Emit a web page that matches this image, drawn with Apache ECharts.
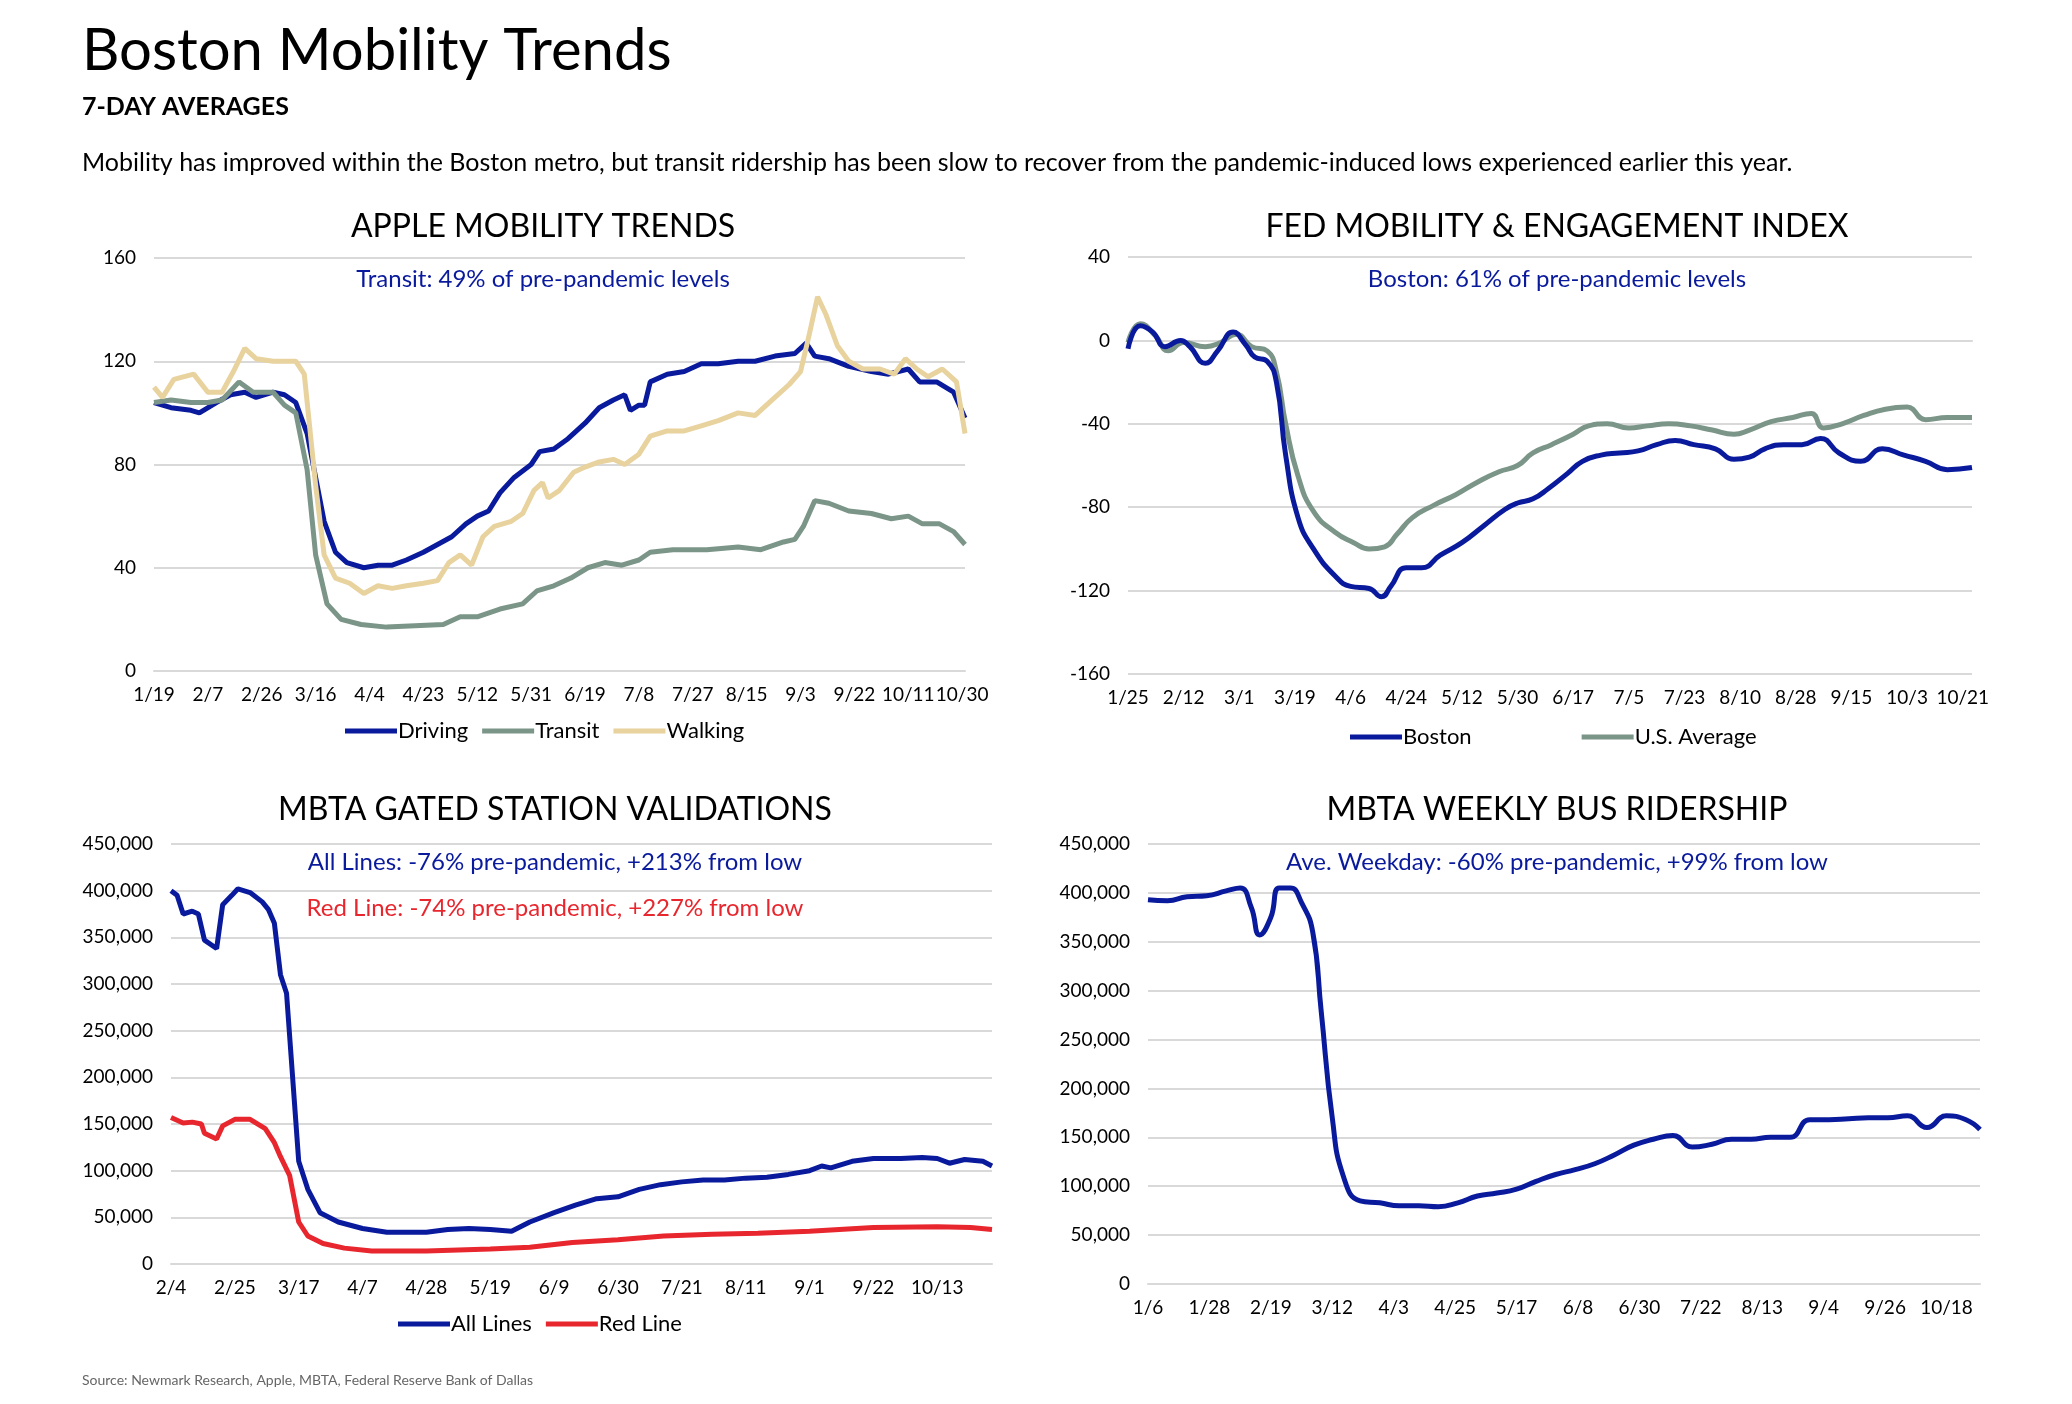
<!DOCTYPE html>
<html>
<head>
<meta charset="utf-8">
<script src="https://cdn.jsdelivr.net/npm/echarts@6/dist/echarts.min.js"></script>
<style>
  html, body { margin: 0; padding: 0; background: #fff; }
  #main { width: 2072px; height: 1404px; }
</style>
</head>
<body>
<div id="main"></div>
<script>
var FONT = 'Lato';
var BLUE = '#0a1a9c';
var GREEN = '#7b9588';
var TAN = '#e8d29e';
var RED = '#e8262e';

// ---- Apple mobility (daily, sampled) ----
var appleDriving = [['1/19',104],['1/25',102],['2/1',101],['2/4',100],['2/10',104],['2/15',107],['2/20',108],['2/24',106],['3/1',108],['3/5',107],['3/9',104],['3/13',92],['3/16',75],['3/19',58],['3/23',46],['3/27',42],['4/2',40],['4/7',41],['4/12',41],['4/17',43],['4/23',46],['4/28',49],['5/3',52],['5/8',57],['5/12',60],['5/16',62],['5/20',69],['5/25',75],['5/31',80],['6/3',85],['6/8',86],['6/13',90],['6/19',96],['6/24',102],['6/29',105],['7/3',107],['7/5',101],['7/8',103],['7/10',103],['7/12',112],['7/18',115],['7/24',116],['7/30',119],['8/5',119],['8/12',120],['8/18',120],['8/25',122],['9/1',123],['9/5',127],['9/8',122],['9/13',121],['9/20',118],['9/28',116],['10/4',115],['10/11',117],['10/15',112],['10/21',112],['10/27',108],['10/31',98]];
var appleTransit = [['1/19',104],['1/25',105],['2/1',104],['2/7',104],['2/12',105],['2/18',112],['2/23',108],['3/1',108],['3/5',103],['3/9',100],['3/13',78],['3/16',45],['3/20',26],['3/25',20],['4/1',18],['4/10',17],['4/20',17.5],['4/30',18],['5/6',21],['5/12',21],['5/20',24],['5/28',26],['6/2',31],['6/8',33],['6/14',36],['6/20',40],['6/26',42],['7/2',41],['7/8',43],['7/12',46],['7/20',47],['8/1',47],['8/12',48],['8/20',47],['8/28',50],['9/1',51],['9/4',56],['9/8',66],['9/13',65],['9/20',62],['9/28',61],['10/5',59],['10/11',60],['10/16',57],['10/22',57],['10/27',54],['10/31',49]];
var appleWalking = [['1/19',110],['1/22',106],['1/26',113],['2/2',115],['2/7',108],['2/12',108],['2/16',116],['2/20',125],['2/24',121],['3/1',120],['3/5',120],['3/9',120],['3/12',115],['3/16',72],['3/19',45],['3/23',36],['3/28',34],['4/2',30],['4/7',33],['4/12',32],['4/17',33],['4/23',34],['4/28',35],['5/2',42],['5/6',45],['5/10',41],['5/14',52],['5/18',56],['5/24',58],['5/28',61],['6/1',70],['6/4',73],['6/6',67],['6/10',70],['6/15',77],['6/19',79],['6/24',81],['6/29',82],['7/3',80],['7/8',84],['7/12',91],['7/18',93],['7/24',93],['7/30',95],['8/5',97],['8/12',100],['8/18',99],['8/24',105],['8/30',111],['9/3',116],['9/6',130],['9/9',145],['9/12',138],['9/16',126],['9/20',120],['9/25',117],['10/1',117],['10/6',115],['10/10',121],['10/14',117],['10/18',114],['10/23',117],['10/28',112],['10/31',92]];

// ---- Fed mobility & engagement index ----
var fedBoston = [['1/25',-4],['1/29',7],['2/2',4],['2/6',-3],['2/11',0],['2/14',-3],['2/19',-11],['2/23',-5],['2/28',4],['3/3',-2],['3/6',-8],['3/10',-10],['3/13',-20],['3/16',-55],['3/20',-85],['3/25',-100],['4/1',-113],['4/6',-118],['4/12',-119],['4/16',-123],['4/19',-118],['4/24',-109],['4/29',-109],['5/5',-103],['5/12',-97],['5/19',-89],['5/26',-81],['5/30',-78],['6/4',-76],['6/9',-71],['6/15',-64],['6/20',-58],['6/26',-55],['7/2',-54],['7/8',-53],['7/14',-50],['7/20',-48],['7/26',-50],['8/2',-52],['8/8',-57],['8/13',-56],['8/18',-52],['8/24',-50],['8/30',-50],['9/5',-47],['9/11',-54],['9/18',-58],['9/25',-52],['10/2',-55],['10/9',-58],['10/16',-62],['10/24',-61]];
var fedUS = [['1/25',-1],['1/29',8],['2/3',2],['2/7',-5],['2/12',-1],['2/19',-3],['2/24',-1],['2/29',3],['3/5',-3],['3/10',-5],['3/13',-15],['3/16',-40],['3/20',-65],['3/25',-82],['4/1',-92],['4/7',-97],['4/12',-100],['4/17',-99],['4/21',-93],['4/26',-85],['5/3',-79],['5/10',-74],['5/17',-68],['5/24',-63],['5/30',-60],['6/4',-54],['6/10',-50],['6/17',-45],['6/22',-41],['6/28',-40],['7/5',-42],['7/11',-41],['7/18',-40],['7/25',-41],['8/1',-43],['8/8',-45],['8/13',-43],['8/20',-39],['8/27',-37],['9/2',-35],['9/6',-42],['9/12',-40],['9/19',-36],['9/26',-33],['10/3',-32],['10/9',-38],['10/16',-37],['10/24',-37]];

// ---- MBTA gated station validations ----
var gatedAll = [['2/4',400000],['2/6',395000],['2/8',375000],['2/11',378000],['2/13',375000],['2/15',347000],['2/19',338000],['2/21',385000],['2/24',395000],['2/26',402000],['3/1',398000],['3/5',388000],['3/7',380000],['3/9',365000],['3/11',310000],['3/13',290000],['3/15',200000],['3/17',110000],['3/20',80000],['3/24',55000],['3/30',45000],['4/7',38000],['4/15',34000],['4/28',34000],['5/5',37000],['5/12',38000],['5/19',37000],['5/26',35000],['6/1',45000],['6/9',55000],['6/16',63000],['6/23',70000],['6/30',72000],['7/7',80000],['7/14',85000],['7/21',88000],['7/28',90000],['8/4',90000],['8/11',92000],['8/18',93000],['8/25',96000],['9/1',100000],['9/5',105000],['9/8',103000],['9/15',110000],['9/22',113000],['10/1',113000],['10/8',114000],['10/13',113000],['10/17',108000],['10/22',112000],['10/28',110000],['10/31',105000]];
var gatedRed = [['2/4',157000],['2/8',151000],['2/11',152000],['2/14',150000],['2/15',140000],['2/19',134000],['2/21',148000],['2/25',155000],['3/1',155000],['3/6',145000],['3/9',130000],['3/11',115000],['3/14',95000],['3/17',45000],['3/20',30000],['3/25',22000],['4/1',17000],['4/10',14000],['4/28',14000],['5/19',16000],['6/1',18000],['6/15',23000],['6/30',26000],['7/15',30000],['7/31',32000],['8/15',33000],['9/1',35000],['9/22',39000],['10/13',40000],['10/24',39000],['10/31',37000]];

// ---- MBTA weekly bus ridership ----
var busWeekday = [['1/6',393000],['1/13',392000],['1/20',396000],['1/27',397000],['2/3',402000],['2/8',405000],['2/12',385000],['2/15',357000],['2/19',375000],['2/22',405000],['2/26',405000],['3/1',390000],['3/5',360000],['3/8',280000],['3/12',170000],['3/16',110000],['3/22',85000],['3/29',83000],['4/5',80000],['4/12',80000],['4/19',79000],['4/26',83000],['5/3',90000],['5/10',93000],['5/17',97000],['5/24',105000],['5/31',112000],['6/7',117000],['6/14',123000],['6/21',132000],['6/28',142000],['7/5',148000],['7/12',152000],['7/19',140000],['7/26',143000],['8/2',148000],['8/9',148000],['8/16',150000],['8/23',150000],['8/30',168000],['9/6',168000],['9/13',169000],['9/20',170000],['9/27',170000],['10/4',172000],['10/11',160000],['10/18',172000],['10/25',168000],['10/30',158000]];

// daily category labels m/d (2020)
function days(start, end) {
  var out = [];
  var d = new Date(2020, start[0] - 1, start[1]);
  var e = new Date(2020, end[0] - 1, end[1]);
  while (d <= e) {
    out.push((d.getMonth() + 1) + '/' + d.getDate());
    d.setDate(d.getDate() + 1);
  }
  return out;
}
var appleDays = days([1, 19], [10, 31]);
var fedDays = days([1, 25], [10, 24]);
var gatedDays = days([2, 4], [10, 31]);
var busDays = days([1, 6], [10, 30]);

var chart = echarts.init(document.getElementById('main'));

var axisText = { fontFamily: FONT, fontSize: 19, color: '#000' };

function xAxis(idx, data, every) {
  return {
    type: 'category', gridIndex: idx, data: data, boundaryGap: false,
    axisLine: { lineStyle: { color: '#d9d9d9', width: 2 } },
    axisTick: { show: false },
    axisLabel: Object.assign({ interval: every - 1, margin: 14 }, axisText)
  };
}
function yAxis(idx, min, max, step, fmt) {
  return {
    type: 'value', gridIndex: idx, min: min, max: max, interval: step,
    axisLine: { show: false }, axisTick: { show: false },
    splitLine: { lineStyle: { color: '#d9d9d9', width: 2 } },
    axisLabel: Object.assign({ margin: 18, formatter: fmt }, axisText)
  };
}
function line(name, idx, data, color, smooth) {
  return {
    name: name, type: 'line', xAxisIndex: idx, yAxisIndex: idx, data: data,
    showSymbol: false, smooth: smooth, lineStyle: { color: color, width: 5 },
    itemStyle: { color: color }
  };
}
function txt(left, top, text, size, color, weight) {
  return {
    type: 'text', left: left, top: top,
    style: { text: text, fontFamily: FONT, fontSize: size, fill: color, fontWeight: weight || 'normal' }
  };
}
function center(cx, top, text, size, color) {
  return {
    type: 'text', x: cx, y: top,
    style: { text: text, fontFamily: FONT, fontSize: size, fill: color, textAlign: 'center', textVerticalAlign: 'top' }
  };
}
var thousands = function (v) { return v.toLocaleString('en-US'); };

var legendBase = { itemWidth: 52, itemHeight: 5, icon: 'rect', itemGap: 14, textStyle: { fontFamily: FONT, fontSize: 22, color: '#000', padding: [0, 0, 0, -4] } };

chart.setOption({
  backgroundColor: '#fff',
  animation: false,
  graphic: [
    txt(82, 22, 'Boston Mobility Trends', 58, '#000'),
    txt(82, 94, '7-DAY AVERAGES', 25, '#000', 'bold'),
    txt(82, 150, 'Mobility has improved within the Boston metro, but transit ridership has been slow to recover from the pandemic-induced lows experienced earlier this year.', 25, '#000'),
    center(543, 211, 'APPLE MOBILITY TRENDS', 32, '#000'),
    center(1557, 211, 'FED MOBILITY & ENGAGEMENT INDEX', 32, '#000'),
    center(555, 794, 'MBTA GATED STATION VALIDATIONS', 32, '#000'),
    center(1557, 794, 'MBTA WEEKLY BUS RIDERSHIP', 32, '#000'),
    center(543, 267, 'Transit: 49% of pre-pandemic levels', 24, BLUE),
    center(1557, 267, 'Boston: 61% of pre-pandemic levels', 24, BLUE),
    center(555, 850, 'All Lines: -76% pre-pandemic, +213% from low', 24, BLUE),
    center(555, 896, 'Red Line: -74% pre-pandemic, +227% from low', 24, RED),
    center(1557, 850, 'Ave. Weekday: -60% pre-pandemic, +99% from low', 24, BLUE),
    txt(82, 1373, 'Source: Newmark Research, Apple, MBTA, Federal Reserve Bank of Dallas', 14, '#666')
  ],
  grid: [
    { left: 154, width: 811, top: 258, height: 413 },
    { left: 1128, width: 844, top: 257, height: 417 },
    { left: 171, width: 821, top: 844, height: 420 },
    { left: 1148, width: 832, top: 844, height: 440 }
  ],
  legend: [
    Object.assign({ data: ['Driving', 'Transit', 'Walking'] }, legendBase, { left: 340, top: 715 }),
    Object.assign({ data: ['Boston', 'U.S. Average'] }, legendBase, { left: 1345, top: 721, itemGap: 110 }),
    Object.assign({ data: ['All Lines', 'Red Line'] }, legendBase, { left: 393, top: 1322 - 14 })
  ],
  xAxis: [
    xAxis(0, appleDays, 19),
    xAxis(1, fedDays, 18),
    xAxis(2, gatedDays, 21),
    xAxis(3, busDays, 22)
  ],
  yAxis: [
    yAxis(0, 0, 160, 40),
    yAxis(1, -160, 40, 40),
    yAxis(2, 0, 450000, 50000, thousands),
    yAxis(3, 0, 450000, 50000, thousands)
  ],
  series: [
    line('Driving', 0, appleDriving, BLUE, false),
    line('Transit', 0, appleTransit, GREEN, false),
    line('Walking', 0, appleWalking, TAN, false),
    line('U.S. Average', 1, fedUS, GREEN, true),
    line('Boston', 1, fedBoston, BLUE, true),
    line('Red Line', 2, gatedRed, RED, false),
    line('All Lines', 2, gatedAll, BLUE, false),
    line('Ave. Weekday', 3, busWeekday, BLUE, true)
  ]
});
</script>
</body>
</html>
